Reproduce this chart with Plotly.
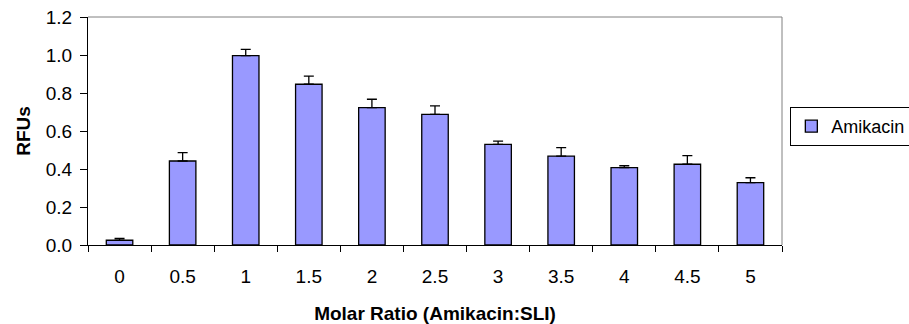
import plotly.graph_objects as go

# molar ratio categories and measured RFUs
ratios = ["0", "0.5", "1", "1.5", "2", "2.5", "3", "3.5", "4", "4.5", "5"]
rfus = [0.025, 0.442, 0.997, 0.846, 0.723, 0.688, 0.530, 0.468, 0.407, 0.425, 0.328]
rfus_err = [0.010, 0.044, 0.033, 0.043, 0.044, 0.044, 0.017, 0.044, 0.010, 0.045, 0.026]
series_name = "Amikacin"

fig = go.Figure()
fig.add_trace(go.Bar(
    x=ratios, y=rfus, name=series_name,
    marker=dict(color="#9999FF", line=dict(color="black", width=1.3)),
    error_y=dict(type="data", symmetric=False, array=rfus_err,
                 arrayminus=[0] * len(rfus_err),
                 color="black", thickness=1.3, width=5),
))

# gray frame on top and right of the plot area
fig.add_shape(type="line", xref="paper", yref="paper", x0=0, x1=1, y0=1, y1=1,
              line=dict(color="#808080", width=1))
fig.add_shape(type="line", xref="paper", yref="paper", x0=1, x1=1, y0=0, y1=1,
              line=dict(color="#808080", width=1))

fig.update_layout(
    width=909, height=324,
    margin=dict(l=88, r=127, t=17, b=79, autoexpand=False),
    paper_bgcolor="white", plot_bgcolor="white",
    font=dict(family="Liberation Sans, Arial", size=19, color="black"),
    bargap=0.58,
    showlegend=True,
    legend=dict(x=1.012, y=0.52, xanchor="left", yanchor="middle",
                bordercolor="black", borderwidth=1, font=dict(size=18),
                itemwidth=30),
    xaxis=dict(
        type="category", tickson="boundaries", ticks="outside", ticklen=6,
        tickcolor="black", showline=True, linecolor="black", linewidth=1,
        showgrid=False, ticklabelstandoff=14, automargin=False,
        title=dict(text="<b>Molar Ratio (Amikacin:SLI)</b>", font=dict(size=19),
                   standoff=20),
    ),
    yaxis=dict(
        range=[0, 1.2], dtick=0.2, tickformat=".1f", ticks="outside", ticklen=7,
        tickcolor="black", showline=True, linecolor="black", linewidth=1,
        showgrid=False, zeroline=False, automargin=False, ticklabelstandoff=4,
        title=dict(text="<b>RFUs</b>", font=dict(size=19), standoff=10),
    ),
)

# drop the default page margin so the figure sits at the window corner
fig.write_html("out.html", config={"displayModeBar": False},
               post_script="document.body.style.margin='0';")
